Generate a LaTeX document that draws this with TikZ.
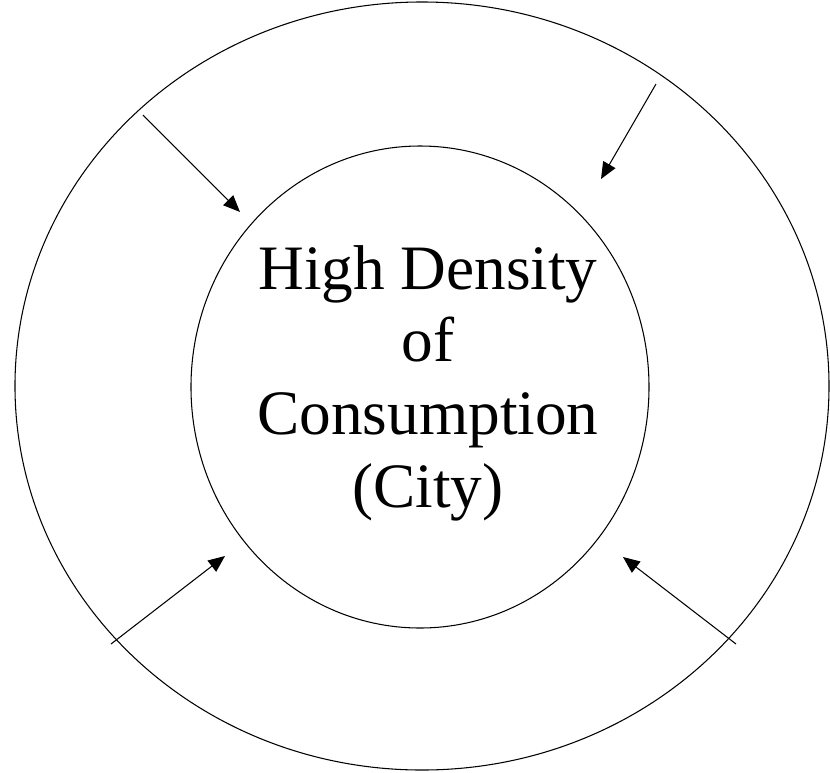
\documentclass[tikz,border=0pt]{standalone}
\usepackage{fontspec}
\setmainfont{Liberation Serif}
\usetikzlibrary{shapes.geometric,arrows.meta}
\begin{document}
\begin{tikzpicture}
		[x=0.03cm, y=-0.03cm,
		ring/.style={
			ellipse,
			draw,
			line width=0.9pt,
			inner sep=0pt
		},
		inflow/.style={line width=0.9pt,-{Triangle[length=0.5cm,width=0.42cm]}}]
		\useasboundingbox (0,0) rectangle (830,772);
		\node[ring, minimum width=24.42cm, minimum height=23.04cm] (region) at (422,386) {};
		\node[ring, minimum width=13.74cm, minimum height=14.46cm] (city) at (420,387) {};
		\node[align=center, font=\fontsize{54}{62}\selectfont] (label) at (428,383)
			{High Density\\of\\Consumption\\(City)};
		\coordinate (nw) at (143,115);
		\coordinate (ne) at (656,84);
		\coordinate (sw) at (111,644);
		\coordinate (se) at (736,644);
		\coordinate (nwtip) at (240,212);
		\coordinate (netip) at (601,179);
		\coordinate (swtip) at (225,556);
		\coordinate (setip) at (623,557);
		\draw[inflow] (nw) -- (nwtip);
		\draw[inflow] (ne) -- (netip);
		\draw[inflow] (sw) -- (swtip);
		\draw[inflow] (se) -- (setip);
	\end{tikzpicture}
\end{document}
